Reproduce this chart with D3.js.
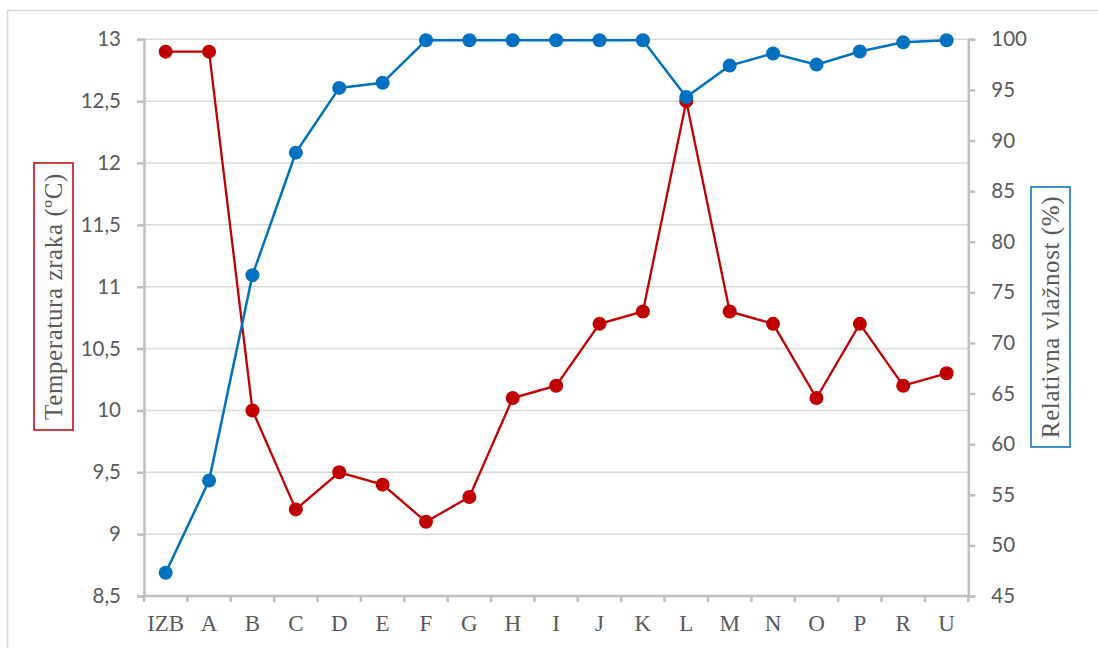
<!DOCTYPE html>
<html>
<head>
<meta charset="utf-8">
<script src="https://cdn.jsdelivr.net/npm/d3@7"></script>
<style>
  html, body { margin: 0; padding: 0; background: #fff; }
  svg { display: block; }
</style>
</head>
<body>
<svg id="chart" width="1098" height="648"></svg>
<script>
const categories = ["IZB","A","B","C","D","E","F","G","H","I","J","K","L","M","N","O","P","R","U"];
const temperature = [12.9,12.9,10.0,9.2,9.5,9.4,9.1,9.3,10.1,10.2,10.7,10.8,12.5,10.8,10.7,10.1,10.7,10.2,10.3];
const humidity = [47.3,56.4,76.7,88.8,95.2,95.7,99.9,99.9,99.9,99.9,99.9,99.9,94.3,97.4,98.6,97.5,98.8,99.7,99.9];
const leftTicks = [8.5,9,9.5,10,10.5,11,11.5,12,12.5,13];
const rightTicks = [45,50,55,60,65,70,75,80,85,90,95,100];
const leftTitle = "Temperatura zraka (ºC)";
const rightTitle = "Relativna vlažnost (%)";

const svg = d3.select("#chart");
const plot = {left: 144, right: 968.3, top: 39.3, bottom: 596};
const red = "#C00000", blue = "#0070C0", textCol = "#595959", axisCol = "#BFBFBF", gridCol = "#D9D9D9";

// outer border
svg.append("rect").attr("x", 7.5).attr("y", 10.5).attr("width", 1200).attr("height", 800)
  .attr("fill", "none").attr("stroke", "#D9D9D9").attr("stroke-width", 1.5);

const x = d3.scaleBand().domain(categories).range([plot.left, plot.right]).paddingInner(0).paddingOuter(0);
const yL = d3.scaleLinear().domain([8.5, 13]).range([plot.bottom, plot.top]);
const yR = d3.scaleLinear().domain([45, 100]).range([plot.bottom, plot.top]);
const cx = d => x(d) + x.bandwidth() / 2;

// gridlines
svg.append("g").selectAll("line").data(leftTicks.slice(1)).join("line")
  .attr("x1", plot.left).attr("x2", plot.right)
  .attr("y1", d => yL(d)).attr("y2", d => yL(d))
  .attr("stroke", gridCol).attr("stroke-width", 1.5);

// left axis
const gL = svg.append("g").attr("transform", `translate(${plot.left},0)`)
  .call(d3.axisLeft(yL).tickValues(leftTicks).tickSize(7).tickPadding(16)
    .tickFormat(d => String(d).replace(".", ",")));
// right axis
const gR = svg.append("g").attr("transform", `translate(${plot.right},0)`)
  .call(d3.axisRight(yR).tickValues(rightTicks).tickSize(7).tickPadding(16));
[gL, gR].forEach(g => {
  g.select(".domain").attr("stroke", axisCol).attr("stroke-width", 2.5);
  g.selectAll(".tick line").attr("stroke", axisCol).attr("stroke-width", 2.5);
  g.selectAll(".tick text").attr("fill", textCol).style("font-family", "Lato, 'Open Sans', sans-serif").style("font-size", "20.5px");
});

// x axis
const gX = svg.append("g").attr("transform", `translate(0,${plot.bottom})`);
gX.append("line").attr("x1", plot.left - 1).attr("x2", plot.right + 1)
  .attr("stroke", axisCol).attr("stroke-width", 2.5);
const boundaries = categories.map(d => x(d)).concat([plot.right]);
gX.selectAll("line.tk").data(boundaries).join("line").attr("class", "tk")
  .attr("x1", d => d).attr("x2", d => d).attr("y1", 0).attr("y2", 6)
  .attr("stroke", axisCol).attr("stroke-width", 2.5);
gX.selectAll("text").data(categories).join("text")
  .attr("x", d => cx(d)).attr("y", 35)
  .attr("text-anchor", "middle").attr("fill", textCol)
  .style("font-family", "'Liberation Serif', 'Times New Roman', serif").style("font-size", "23px")
  .text(d => d);

// lines
const lineL = d3.line().x((d, i) => cx(categories[i])).y(d => yL(d));
const lineR = d3.line().x((d, i) => cx(categories[i])).y(d => yR(d));

svg.append("path").datum(temperature).attr("d", lineL)
  .attr("fill", "none").attr("stroke", red).attr("stroke-width", 2.3);
svg.append("g").selectAll("circle").data(temperature).join("circle")
  .attr("cx", (d, i) => cx(categories[i])).attr("cy", d => yL(d)).attr("r", 7).attr("fill", red);

svg.append("path").datum(humidity).attr("d", lineR)
  .attr("fill", "none").attr("stroke", blue).attr("stroke-width", 2.5);
svg.append("g").selectAll("circle").data(humidity).join("circle")
  .attr("cx", (d, i) => cx(categories[i])).attr("cy", d => yR(d)).attr("r", 7).attr("fill", blue);

// axis titles with boxes
function boxedTitle(txt, cxp, cyp, w, h, col) {
  const g = svg.append("g").attr("transform", `translate(${cxp},${cyp}) rotate(-90)`);
  g.append("rect").attr("x", -h / 2).attr("y", -w / 2).attr("width", h).attr("height", w)
    .attr("fill", "#fff").attr("stroke", col).attr("stroke-width", 1.5);
  g.append("text").attr("x", 0).attr("y", 8).attr("text-anchor", "middle")
    .attr("fill", textCol)
    .style("font-family", "'Liberation Serif', 'Times New Roman', serif")
    .style("font-size", "25px").style("letter-spacing", "0.6px")
    .text(txt);
}
boxedTitle(leftTitle, 53.5, 296.5, 39, 267, red);
boxedTitle(rightTitle, 1050.5, 317, 39, 260, blue);
</script>
</body>
</html>
